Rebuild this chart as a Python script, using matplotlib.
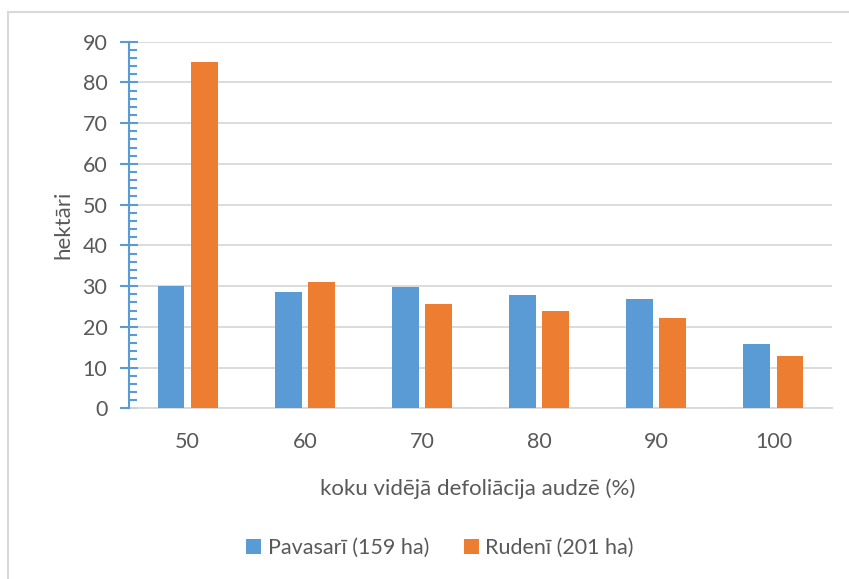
import matplotlib
matplotlib.use("Agg")
import matplotlib.pyplot as plt
import numpy as np
from matplotlib.ticker import MultipleLocator
from matplotlib.patches import Rectangle

plt.rcParams['font.family'] = ['Lato', 'DejaVu Sans']

categories = ["50", "60", "70", "80", "90", "100"]
pavasari = [30.0, 28.6, 29.9, 27.9, 26.8, 15.8]
rudeni = [85.0, 30.9, 25.7, 23.9, 22.2, 12.8]
series_names = ["Pavasarī (159 ha)", "Rudenī (201 ha)"]
y_ticks = [0, 10, 20, 30, 40, 50, 60, 70, 80, 90]
x_title = "koku vidējā defoliācija audzē (%)"
y_title = "hektāri"

blue = "#5B9BD5"
orange = "#ED7D31"
grid = "#D9D9D9"
txt = "#595959"

W, H = 849, 579
fig = plt.figure(figsize=(W / 100, H / 100), dpi=100)
ax = fig.add_axes([129 / W, 1 - 408.3 / H, (832 - 129) / W, (408.3 - 41.7) / H])

x = np.arange(len(categories))
w = 0.229
off = 0.142
ax.bar(x - off, pavasari, width=w, color=blue, label=series_names[0], zorder=3)
ax.bar(x + off, rudeni, width=w, color=orange, label=series_names[1], zorder=3)

ax.set_xlim(-0.5, len(categories) - 0.5)
ax.set_ylim(0, 90)
ax.set_yticks(y_ticks)
ax.yaxis.set_minor_locator(MultipleLocator(2))
ax.set_xticks(x)
ax.set_xticklabels(categories)

ax.grid(axis='y', color=grid, linewidth=1.3, zorder=0)
ax.set_axisbelow(True)
for s in ['top', 'right']:
    ax.spines[s].set_visible(False)
ax.spines['bottom'].set_color(grid)
ax.spines['bottom'].set_linewidth(1.3)
ax.spines['left'].set_color(blue)
ax.spines['left'].set_linewidth(1.5)
ax.spines['left'].set_zorder(4)

ax.tick_params(axis='y', which='major', direction='inout', length=13, width=1.5,
               color=blue, labelcolor=txt, labelsize=15.5, pad=9.0)
ax.tick_params(axis='y', which='minor', direction='in', length=6, width=1.5, color=blue)
ax.tick_params(axis='x', which='both', length=0, labelcolor=txt, labelsize=15.5, pad=28.8)
for lab in ax.get_xticklabels():
    lab.set_va('baseline')

fig.text(478 / W, 1 - 495 / H, x_title, fontsize=16, color=txt,
         ha='center', va='baseline')
fig.text(69 / W, 1 - 224.5 / H, y_title, fontsize=16, color=txt,
         ha='center', va='baseline', rotation=90, rotation_mode='anchor')

leg = fig.legend(loc='center', bbox_to_anchor=(440 / W, 1 - 548 / H), ncol=2, frameon=False,
                 fontsize=15.5, handlelength=0.7, handleheight=0.7, columnspacing=1.6,
                 handletextpad=0.3, labelcolor=txt)

fig.patches.append(Rectangle((8 / W, -0.1), 1.2, 1 - 12 / H + 0.1, transform=fig.transFigure,
                             fill=False, edgecolor=grid, linewidth=1.5))

fig.savefig("out.png", dpi=100)
